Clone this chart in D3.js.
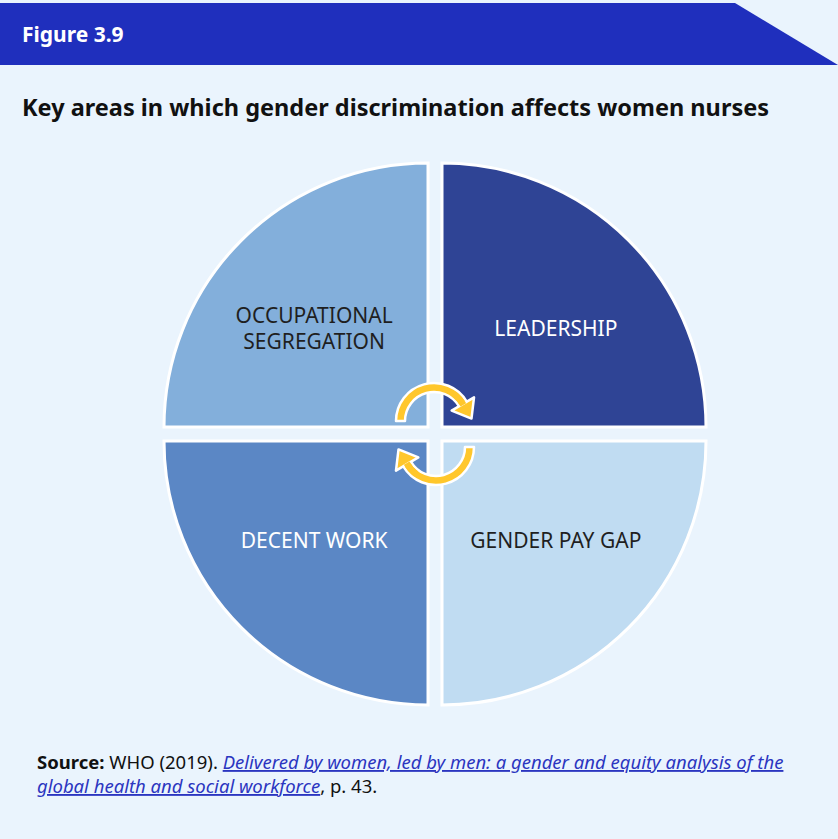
<!DOCTYPE html>
<html>
<head>
<meta charset="utf-8">
<script src="https://cdn.jsdelivr.net/npm/d3@7"></script>
<style>
	body { margin: 0; background: #ffffff; }
	svg { display: block; font-family: "Noto Sans", "Open Sans", sans-serif; }
</style>
</head>
<body>
<div id="chart"></div>
<script>
// quadrants, clockwise from top-left
var areas  = ["OCCUPATIONAL SEGREGATION", "LEADERSHIP", "GENDER PAY GAP", "DECENT WORK"];
var shares = [1, 1, 1, 1];
var fills  = ["#83afdb", "#2f4495", "#c0dcf2", "#5b87c5"];
var inks   = ["#1f1f1f", "#ffffff", "#1f1f1f", "#ffffff"];

var figureLabel = "Figure 3.9";
var titleText   = "Key areas in which gender discrimination affects women nurses";
var sourceLines = [
	[{t: "Source:", b: true}, {t: " WHO (2019). "}, {t: "Delivered by women, led by men: a gender and equity analysis of the ", link: true}],
	[{t: "global health and social workforce", link: true}, {t: ", p. 43."}]
];

var width = 838, height = 839;
var cx = 435, cy = 434;
var radius = 264, gap = 7;

var svg = d3.select("#chart").append("svg")
	.attr("width", width)
	.attr("height", height);

// panel background
svg.append("rect")
	.attr("x", 0).attr("y", 0)
	.attr("width", width).attr("height", height)
	.attr("fill", "#eaf4fd");

// header band with the slanted right end
svg.append("path")
	.attr("d", "M0,3 L735,3 L838,65 L0,65 Z")
	.attr("fill", "#1f2fbd");

svg.append("text")
	.attr("x", 22).attr("y", 42)
	.attr("fill", "#ffffff")
	.attr("font-size", 21)
	.attr("font-weight", 700)
	.text(figureLabel);

svg.append("text")
	.attr("x", 22).attr("y", 116)
	.attr("fill", "#111111")
	.attr("font-size", 23.5)
	.attr("font-weight", 700)
	.text(titleText);

////////////////////////////////////////
// the four quadrants

var pie = d3.pie().sort(null)
	.startAngle(-Math.PI / 2)
	.endAngle(Math.PI * 1.5);

var arc = d3.arc().innerRadius(0).outerRadius(radius);

var slices = pie(shares);

var g = svg.append("g").attr("transform", "translate(" + cx + "," + cy + ")");

var quad = g.selectAll("g.quad")
	.data(slices)
	.enter().append("g")
	.attr("class", "quad")
	.attr("transform", function(d) {
		var mid = (d.startAngle + d.endAngle) / 2;
		var dx = Math.sin(mid) >= 0 ? gap : -gap;
		var dy = -Math.cos(mid) >= 0 ? gap : -gap;
		return "translate(" + dx + "," + dy + ")";
	});

quad.append("path")
	.attr("d", arc)
	.attr("fill", function(d, i) { return fills[i]; })
	.attr("stroke", "#ffffff")
	.attr("stroke-width", 3)
	.attr("stroke-linejoin", "miter");

quad.append("text")
	.attr("text-anchor", "middle")
	.attr("font-size", 21)
	.attr("fill", function(d, i) { return inks[i]; })
	.attr("transform", function(d) {
		var mid = (d.startAngle + d.endAngle) / 2;
		return "translate(" + (Math.sin(mid) * 161) + "," + (-Math.cos(mid) * 140) + ")";
	})
	.each(function(d, i) {
		var words = areas[i] === "OCCUPATIONAL SEGREGATION" ? ["OCCUPATIONAL", "SEGREGATION"] : [areas[i]];
		var t = d3.select(this);
		words.forEach(function(w, k) {
			t.append("tspan")
				.attr("x", 0)
				.attr("y", (k - (words.length - 1) / 2) * 26 + 8)
				.text(w);
		});
	});

////////////////////////////////////////
// the two cycling arrows in the middle

var arrowArc = d3.arc()
	.innerRadius(29)
	.outerRadius(38)
	.startAngle(-Math.PI / 2)
	.endAngle(Math.PI * 0.33);

function arrowHead() {
	var a = Math.PI * 0.33, r = 33.5;
	var bx = Math.sin(a) * r, by = -Math.cos(a) * r;
	var tx = Math.cos(a), ty = Math.sin(a);     // tangent, clockwise
	var nx = Math.sin(a), ny = -Math.cos(a);    // outward normal
	var w = 13, len = 17;
	return "M" + (bx + nx * w) + "," + (by + ny * w) +
		"L" + (bx + tx * len) + "," + (by + ty * len) +
		"L" + (bx - nx * w) + "," + (by - ny * w) + "Z";
}

[0, 180].forEach(function(rot) {
	var a = svg.append("g")
		.attr("transform", "translate(" + cx + "," + cy + ") rotate(" + rot + ") translate(-1,-13)");
	a.append("path")
		.attr("d", arrowArc())
		.attr("fill", "#ffc72c")
		.attr("stroke", "#ffffff")
		.attr("stroke-width", 2.5)
		.attr("stroke-linejoin", "round");
	a.append("path")
		.attr("d", arrowHead())
		.attr("fill", "#ffc72c")
		.attr("stroke", "#ffffff")
		.attr("stroke-width", 2.5)
		.attr("stroke-linejoin", "round");
	// cover the seam between arc and head
	a.append("path")
		.attr("d", d3.arc().innerRadius(30.3).outerRadius(36.7)
			.startAngle(Math.PI * 0.2).endAngle(Math.PI * 0.34)())
		.attr("fill", "#ffc72c");
});

////////////////////////////////////////
// source note

sourceLines.forEach(function(line, k) {
	var t = svg.append("text")
		.attr("x", 37)
		.attr("y", 769 + k * 24)
		.attr("font-size", 18.5)
		.attr("fill", "#111111");
	line.forEach(function(part) {
		var s = t.append("tspan").text(part.t);
		if (part.b) s.attr("font-weight", 700);
		if (part.link) {
			s.attr("fill", "#2b35c0")
				.attr("font-style", "italic")
				.attr("text-decoration", "underline");
		}
	});
});
</script>
</body>
</html>
